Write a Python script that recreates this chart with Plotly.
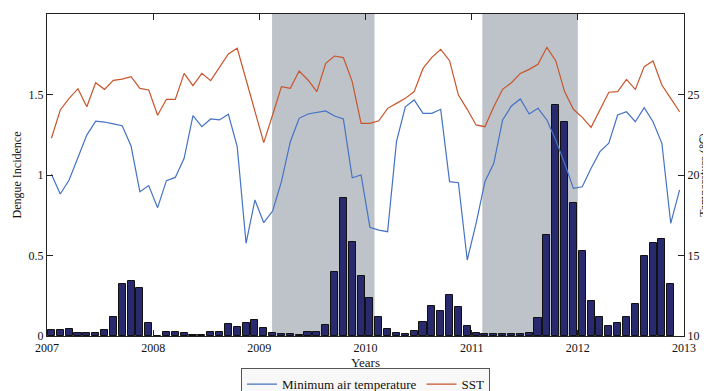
import numpy as np
import plotly.graph_objects as go

# ---- data (monthly, Jan 2007 - Dec 2012) ----
start_year = 2007
n_months = 72

dengue = [
    0.035, 0.035, 0.043, 0.017, 0.020, 0.020, 0.035, 0.120, 0.320, 0.340, 0.300, 0.083,
    0.000, 0.027, 0.024, 0.017, 0.008, 0.008, 0.024, 0.024, 0.075, 0.058, 0.083, 0.100,
    0.052, 0.016, 0.015, 0.012, 0.006, 0.023, 0.023, 0.068, 0.400, 0.855, 0.584, 0.373,
    0.238, 0.116, 0.043, 0.020, 0.015, 0.033, 0.089, 0.186, 0.155, 0.253, 0.182, 0.064,
    0.020, 0.015, 0.012, 0.010, 0.010, 0.012, 0.019, 0.114, 0.630, 1.435, 1.330, 0.824,
    0.528, 0.220, 0.120, 0.062, 0.083, 0.118, 0.197, 0.499, 0.580, 0.602, 0.325,
]

min_air_temp = [
    20.04, 18.82, 19.69, 21.04, 22.48, 23.35, 23.29, 23.17, 23.06, 21.80, 18.96, 19.34,
    17.97, 19.65, 19.85, 21.04, 23.69, 23.00, 23.48, 23.42, 23.77, 21.76, 15.76, 18.45,
    17.04, 17.76, 19.59, 22.07, 23.52, 23.79, 23.89, 23.98, 23.66, 23.48, 19.83, 20.00,
    16.75, 16.58, 16.48, 22.07, 24.24, 24.66, 23.83, 23.83, 24.08, 19.59, 19.52, 14.72,
    17.00, 19.59, 20.73, 23.42, 24.29, 24.72, 23.79, 24.14, 23.42, 22.17, 20.73, 19.17,
    19.27, 20.42, 21.45, 21.97, 23.73, 23.93, 23.31, 24.18, 23.31, 21.97, 17.00, 19.07,
]

sst = [
    22.28, 24.04, 24.76, 25.36, 24.24, 25.73, 25.32, 25.88, 25.96, 26.11, 25.38, 25.28,
    23.71, 24.70, 24.70, 26.31, 25.55, 26.31, 25.86, 26.73, 27.52, 27.87, 25.90, 23.93,
    22.01, 23.73, 25.49, 25.38, 26.46, 25.90, 25.18, 26.94, 27.39, 27.29, 25.80, 23.21,
    23.21, 23.37, 24.14, 24.45, 24.76, 25.18, 26.62, 27.31, 27.81, 27.10, 24.97, 24.08,
    23.11, 23.00, 24.24, 25.32, 25.73, 26.31, 26.56, 26.88, 27.93, 27.10, 25.18, 24.08,
    23.58, 22.96, 24.08, 25.14, 25.18, 25.94, 25.32, 26.73, 27.08, 25.59, 24.76, 23.93,
]

shaded_periods = [(2009.12, 2010.085), (2011.10, 2012.0)]

year_ticks = [2007, 2008, 2009, 2010, 2011, 2012, 2013]
left_ticks = [0, 0.5, 1, 1.5, 2]
left_ticktext = ["0", "0.5", "1", "1.5", "2"]
right_ticks = [10, 15, 20, 25, 30]

# month centres in decimal years
t_all = start_year + (np.arange(n_months) + 0.5) / 12.0
t_dengue = t_all[: len(dengue)]

FONT = "Liberation Serif, Times New Roman, serif"
BLUE = "#4472c4"
ORANGE = "#c8552b"
NAVY = "#29296e"
SHADE = "#bec3ca"

fig = go.Figure()

fig.add_trace(go.Bar(
    x=t_dengue, y=dengue, width=0.8 / 12,
    marker=dict(color=NAVY, line=dict(color="#111111", width=1)),
    showlegend=False, yaxis="y",
))
fig.add_trace(go.Scatter(
    x=t_all, y=min_air_temp, mode="lines", name="Minimum air temperature",
    line=dict(color=BLUE, width=1.2), yaxis="y2",
))
fig.add_trace(go.Scatter(
    x=t_all, y=sst, mode="lines", name="SST",
    line=dict(color=ORANGE, width=1.2), yaxis="y2",
))

shapes = []
for x0, x1 in shaded_periods:
    shapes.append(dict(type="rect", xref="x", yref="paper", x0=x0, x1=x1, y0=0, y1=1,
                       fillcolor=SHADE, line=dict(width=0), layer="below"))

axis_common = dict(showline=True, linecolor="#222222", linewidth=1, ticks="inside",
                   ticklen=6, tickcolor="#222222", showgrid=False, zeroline=False,
                   tickfont=dict(family=FONT, size=12, color="#111111"))

fig.update_layout(
    width=703, height=383,
    margin=dict(l=39, r=27, t=6, b=55, autoexpand=False),
    paper_bgcolor="white", plot_bgcolor="white",
    font=dict(family=FONT, size=13, color="#111111"),
    bargap=0,
    shapes=shapes,
    xaxis=dict(range=[2007, 2013], tickvals=year_ticks, mirror="ticks",
               ticklabelstandoff=1,
               title=dict(text="Years", font=dict(family=FONT, size=13), standoff=0),
               automargin=False, **axis_common),
    yaxis=dict(range=[0, 2], tickvals=left_ticks, ticktext=left_ticktext,
               title=dict(text="Dengue Incidence", font=dict(family=FONT, size=12), standoff=4),
               automargin=False, **axis_common),
    yaxis2=dict(range=[10, 30], tickvals=right_ticks, overlaying="y", side="right",
                title=dict(text="Temperature (℃)", font=dict(family=FONT, size=12), standoff=2),
                automargin=False, **axis_common),
    legend=dict(orientation="h", x=0.5, xanchor="center", y=-0.1, yanchor="top",
                bordercolor="#555555", borderwidth=1, bgcolor="#f8f8f8",
                font=dict(family=FONT, size=13, color="#111111"),
                tracegroupgap=0, itemwidth=30),
    showlegend=True,
)

fig.write_html("out.html")
